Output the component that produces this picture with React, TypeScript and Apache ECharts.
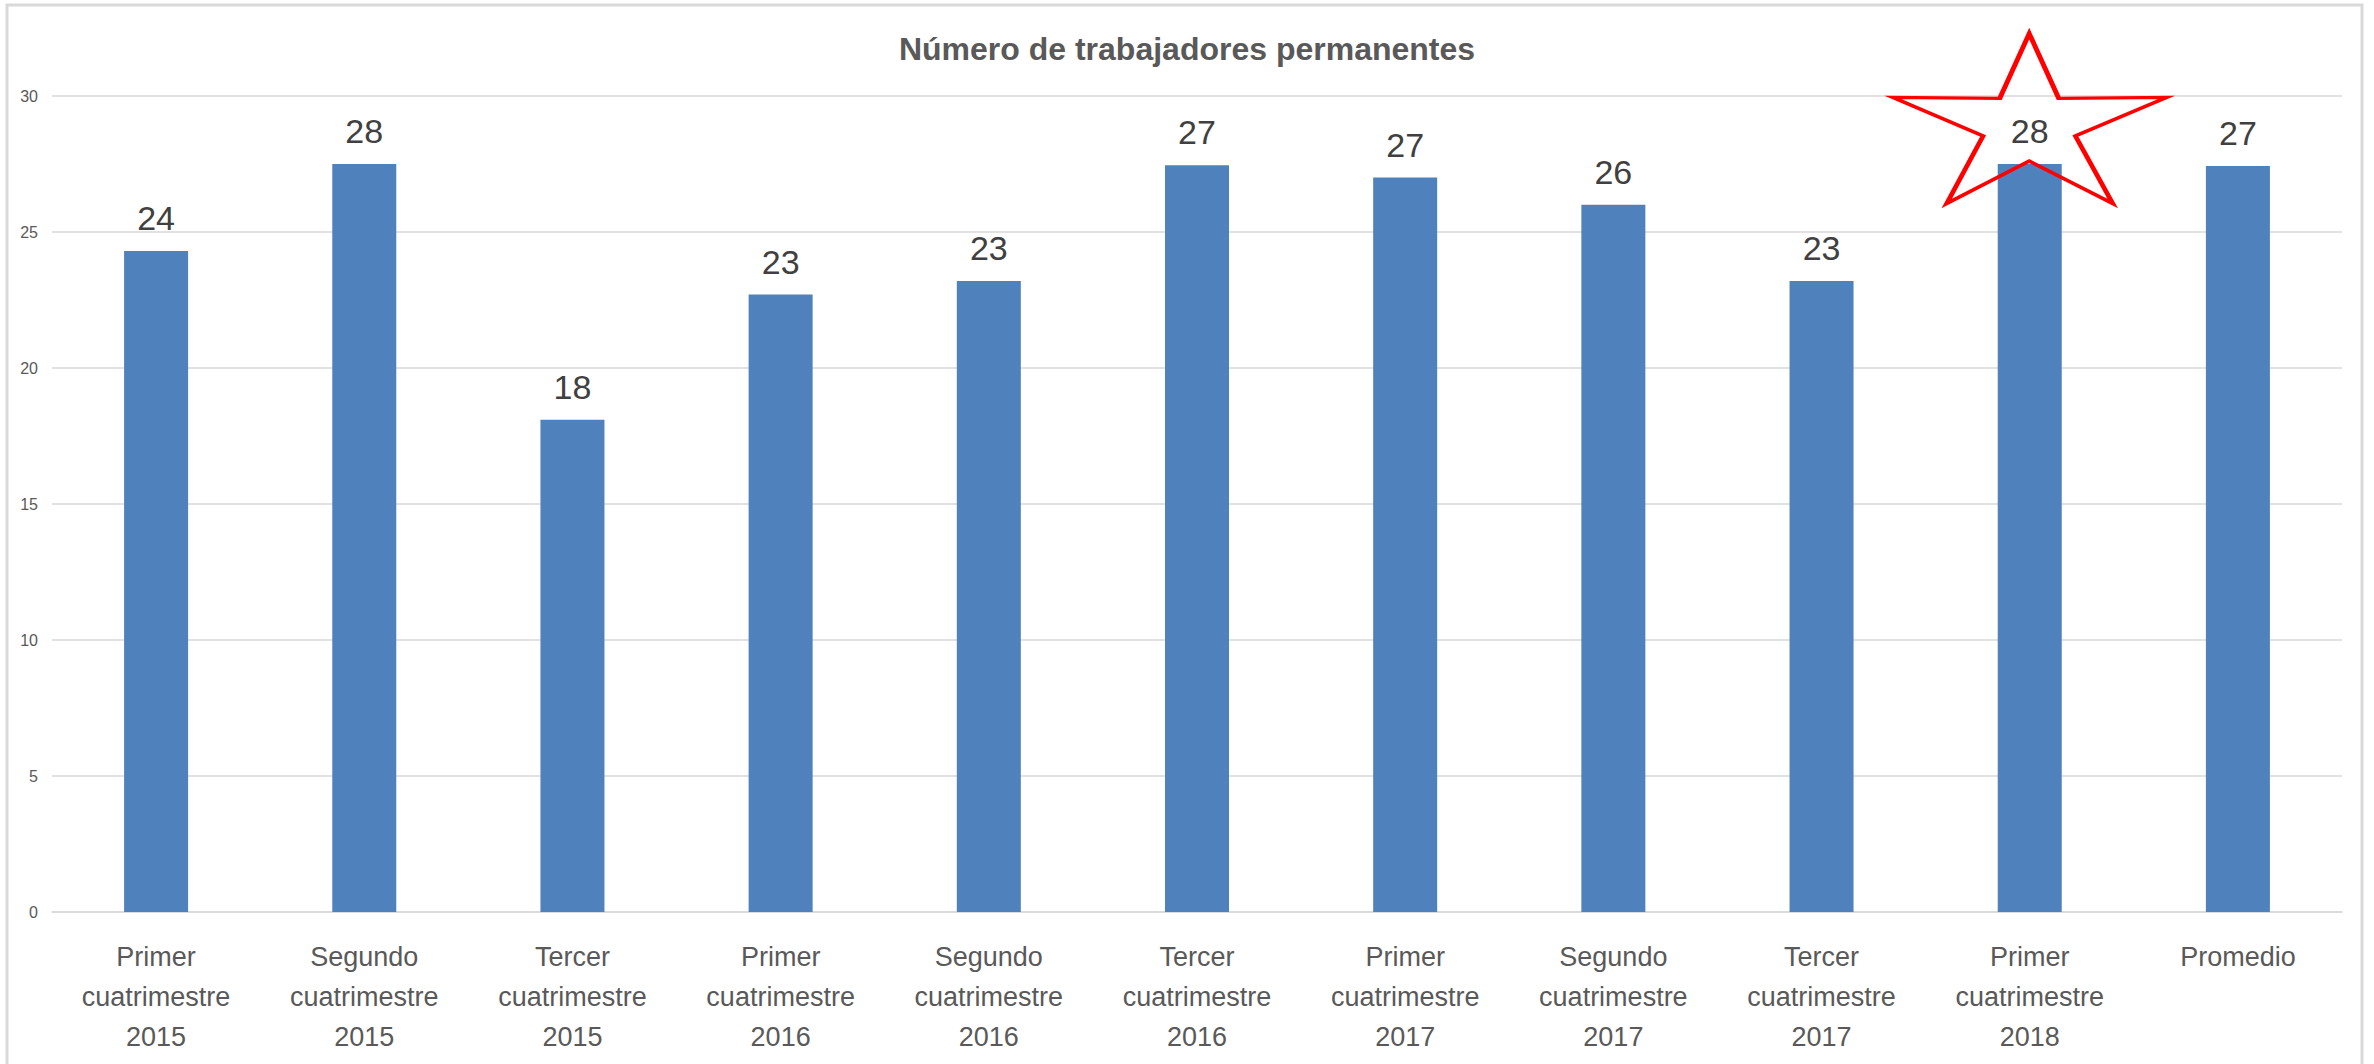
import React, { useEffect, useRef } from "react";
import * as echarts from "echarts";

const TITLE = "Número de trabajadores permanentes";
const categories = [
  "Primer\ncuatrimestre\n2015",
  "Segundo\ncuatrimestre\n2015",
  "Tercer\ncuatrimestre\n2015",
  "Primer\ncuatrimestre\n2016",
  "Segundo\ncuatrimestre\n2016",
  "Tercer\ncuatrimestre\n2016",
  "Primer\ncuatrimestre\n2017",
  "Segundo\ncuatrimestre\n2017",
  "Tercer\ncuatrimestre\n2017",
  "Primer\ncuatrimestre\n2018",
  "Promedio",
];
const values = [24.3, 27.5, 18.1, 22.7, 23.2, 27.45, 27.0, 26.0, 23.2, 27.5, 27.43];
const valueLabels = ["24", "28", "18", "23", "23", "27", "27", "26", "23", "28", "27"];
const yTicks = { min: 0, max: 30, interval: 5 };
const starCategoryIndex = 9;
const starValue = 29.17;

const STAR_PATH =
  "path://M139,0 L169,67 L279,66 L186,106 L224,176 L139,132 L55,176 L92,106 L0,66 L109,67 Z";

const FONT = "'Liberation Sans', Arial, sans-serif";

export default function App() {
  const ref = useRef<HTMLDivElement>(null);
  useEffect(() => {
    document.body.style.margin = "0";
    const chart = echarts.init(ref.current!, null, { renderer: "svg" });
    chart.setOption({
      animation: false,
      backgroundColor: "#ffffff",
      textStyle: { fontFamily: FONT },
      title: {
        text: TITLE,
        left: "center",
        top: 28,
        textStyle: { fontFamily: FONT, fontSize: 32, fontWeight: "bold", color: "#595959" },
      },
      graphic: [
        {
          type: "rect",
          shape: { x: 7, y: 5, width: 2355, height: 1100 },
          style: { fill: "none", stroke: "#d9d9d9", lineWidth: 3 },
          silent: true,
          z: -1,
        },
      ],
      grid: { left: 52, right: 32, top: 96, bottom: 152, containLabel: false },
      xAxis: {
        type: "category",
        data: categories,
        axisTick: { show: false },
        axisLine: { show: true, lineStyle: { color: "#d9d9d9", width: 1.5 } },
        axisLabel: {
          interval: 0,
          margin: 25,
          fontFamily: FONT,
          fontSize: 27,
          lineHeight: 40,
          color: "#595959",
          align: "center",
        },
      },
      yAxis: {
        type: "value",
        min: yTicks.min,
        max: yTicks.max,
        interval: yTicks.interval,
        axisLine: { show: false },
        axisTick: { show: false },
        splitLine: { lineStyle: { color: "#d9d9d9", width: 1.5 } },
        axisLabel: { fontFamily: FONT, fontSize: 16, color: "#595959", margin: 14 },
      },
      series: [
        {
          type: "bar",
          data: values,
          barWidth: 64,
          itemStyle: { color: "#4F81BD" },
          label: {
            show: true,
            position: "top",
            distance: 16,
            fontFamily: FONT,
            fontSize: 34,
            color: "#404040",
            formatter: (p: any) => valueLabels[p.dataIndex],
          },
          markPoint: {
            symbol: STAR_PATH,
            symbolSize: [274, 170],
            symbolKeepAspect: false,
            silent: true,
            label: { show: false },
            itemStyle: { color: "transparent", borderColor: "#FF0000", borderWidth: 4 },
            data: [{ coord: [starCategoryIndex, starValue] }],
          },
        },
      ],
    });
    return () => chart.dispose();
  }, []);
  return (
    <div
      ref={ref}
      style={{ position: "absolute", left: 0, top: 0, width: 2374, height: 1064 }}
    />
  );
}
